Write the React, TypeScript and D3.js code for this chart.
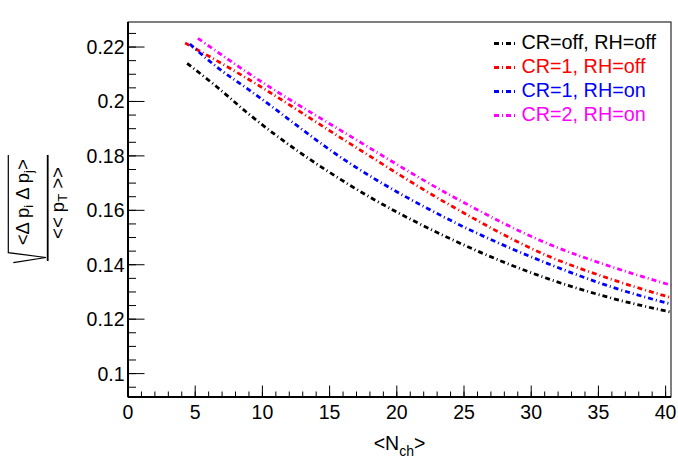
import * as d3 from "d3"

// <N_ch> values and <Δp_i Δp_j> correlator values, per setting
const nchOffOff = [4.4, 6.6, 9.08, 16.52, 23.96, 31.4, 36.0, 40.4]
const valOffOff = [0.214, 0.2054, 0.195, 0.1692, 0.1496, 0.1346, 0.1277, 0.1226]

const nchCr1Off = [4.25, 6.6, 9.08, 16.52, 23.96, 31.4, 36.0, 40.4]
const valCr1Off = [0.2215, 0.215, 0.2078, 0.1845, 0.1619, 0.1429, 0.1346, 0.1279]

const nchCr1On = [4.6, 6.6, 9.08, 16.52, 23.96, 31.4, 36.0, 40.4]
const valCr1On = [0.2211, 0.2127, 0.204, 0.1772, 0.1564, 0.1401, 0.1318, 0.1255]

const nchCr2On = [5.2, 9.08, 16.52, 23.96, 31.4, 36.0, 40.4]
const valCr2On = [0.2232, 0.21, 0.1873, 0.1656, 0.1474, 0.1392, 0.1325]

const seriesLabels = ["CR=off, RH=off", "CR=1, RH=off", "CR=1, RH=on", "CR=2, RH=on"]
const seriesColors = ["#000000", "#ff0000", "#0000ff", "#ff00ff"]

const xMajorTicks = [0, 5, 10, 15, 20, 25, 30, 35, 40]
const yMajorTicks = [0.1, 0.12, 0.14, 0.16, 0.18, 0.2, 0.22]

const FONT = "'Liberation Sans', Arial, Helvetica, sans-serif"

export default function App() {
  const width = 678
  const height = 471
  const margin = { top: 22, right: 7, bottom: 74, left: 128 }
  const plotW = width - margin.left - margin.right
  const plotH = height - margin.top - margin.bottom

  const x = d3.scaleLinear().domain([0, 40.4]).range([0, plotW])
  const y = d3.scaleLinear().domain([0.0914, 0.2292]).range([plotH, 0])

  const xMinor = d3.range(0, 41, 1)
  const yMinor = d3.range(0.095, 0.2291, 0.005)

  const series = [
    { nch: nchOffOff, val: valOffOff },
    { nch: nchCr1Off, val: valCr1Off },
    { nch: nchCr1On, val: valCr1On },
    { nch: nchCr2On, val: valCr2On },
  ]

  const line = d3
    .line<[number, number]>()
    .x((d) => x(d[0]))
    .y((d) => y(d[1]))
    .curve(d3.curveMonotoneX)

  const dash = "5 3 1 3"

  // y title placement (rotated group centred on the fraction bar)
  const tcx = 47.7
  const tcy = 208

  return (
    <svg
      width={width}
      height={height}
      style={{ position: "absolute", left: 0, top: 0, background: "#fff" }}
      fontFamily={FONT}
    >
      <g transform={`translate(${margin.left},${margin.top})`}>
        {/* curves */}
        {series.map((s, i) => (
          <path
            key={i}
            d={line(s.nch.map((n, k) => [n, s.val[k]] as [number, number])) || ""}
            fill="none"
            stroke={seriesColors[i]}
            strokeWidth={2.8}
            strokeDasharray={dash}
          />
        ))}

        {/* frame */}
        <rect x={0} y={0} width={plotW} height={plotH} fill="none" stroke="#000" strokeWidth={1} />
        <line x1={0} x2={plotW} y1={plotH} y2={plotH} stroke="#000" strokeWidth={2} />
        <line x1={0} x2={0} y1={0} y2={plotH} stroke="#000" strokeWidth={2} />

        {/* x ticks */}
        {xMinor.map((t) => (
          <line key={"xm" + t} x1={x(t)} x2={x(t)} y1={plotH} y2={plotH - 5.5} stroke="#000" strokeWidth={1} />
        ))}
        {xMajorTicks.map((t) => (
          <g key={"x" + t}>
            <line x1={x(t)} x2={x(t)} y1={plotH} y2={plotH - 11.5} stroke="#000" strokeWidth={1} />
            <text x={x(t)} y={plotH + 21.5} textAnchor="middle" fontSize={19.5}>
              {t}
            </text>
          </g>
        ))}

        {/* y ticks */}
        {yMinor.map((t, i) => (
          <line key={"ym" + i} x1={0} x2={8} y1={y(t)} y2={y(t)} stroke="#000" strokeWidth={1} />
        ))}
        {yMajorTicks.map((t) => (
          <g key={"y" + t}>
            <line x1={0} x2={16.5} y1={y(t)} y2={y(t)} stroke="#000" strokeWidth={1} />
            <text x={-3.5} y={y(t)} dy="0.36em" textAnchor="end" fontSize={19.5}>
              {d3.format("~g")(t)}
            </text>
          </g>
        ))}
      </g>

      {/* legend */}
      {seriesLabels.map((lab, i) => {
        const base = 48.5 + i * 24
        return (
          <g key={lab}>
            <line x1={494} x2={515} y1={base - 5} y2={base - 5} stroke={seriesColors[i]} strokeWidth={2.8} strokeDasharray={dash} />
            <text x={521.5} y={base} fontSize={19.8} fill={seriesColors[i]}>
              {lab}
            </text>
          </g>
        )
      })}

      {/* x title */}
      <text x={399.5} y={450} textAnchor="middle" fontSize={19.5}>
        {"<N"}
        <tspan fontSize={14} dy={5.5}>ch</tspan>
        <tspan dy={-5.5}>{">"}</tspan>
      </text>

      {/* y title: sqrt(<Δp_i Δp_j>) / <<p_T>> */}
      <g transform={`translate(${tcx},${tcy}) rotate(-90)`}>
        <path
          d="M53,-39.4 L-44.7,-39.4 L-49.5,-1.7 L-54.7,-34.4"
          fill="none"
          stroke="#000"
          strokeWidth={1.2}
        />
        <line x1={-53} x2={53} y1={0} y2={0} stroke="#000" strokeWidth={1.8} />
        <text x={5.7} y={-19.2} textAnchor="middle" fontSize={18.5}>
          {"<Δ p"}
          <tspan fontSize={13} dy={4}>i</tspan>
          <tspan dy={-4}>{" Δ p"}</tspan>
          <tspan fontSize={13} dy={4}>j</tspan>
          <tspan dy={-4}>{">"}</tspan>
        </text>
        <text x={5} y={15.8} textAnchor="middle" fontSize={18.5}>
          {"<<  p"}
          <tspan fontSize={13} dy={4}>T</tspan>
          <tspan dy={-4}>{"  >>"}</tspan>
        </text>
      </g>
    </svg>
  )
}
